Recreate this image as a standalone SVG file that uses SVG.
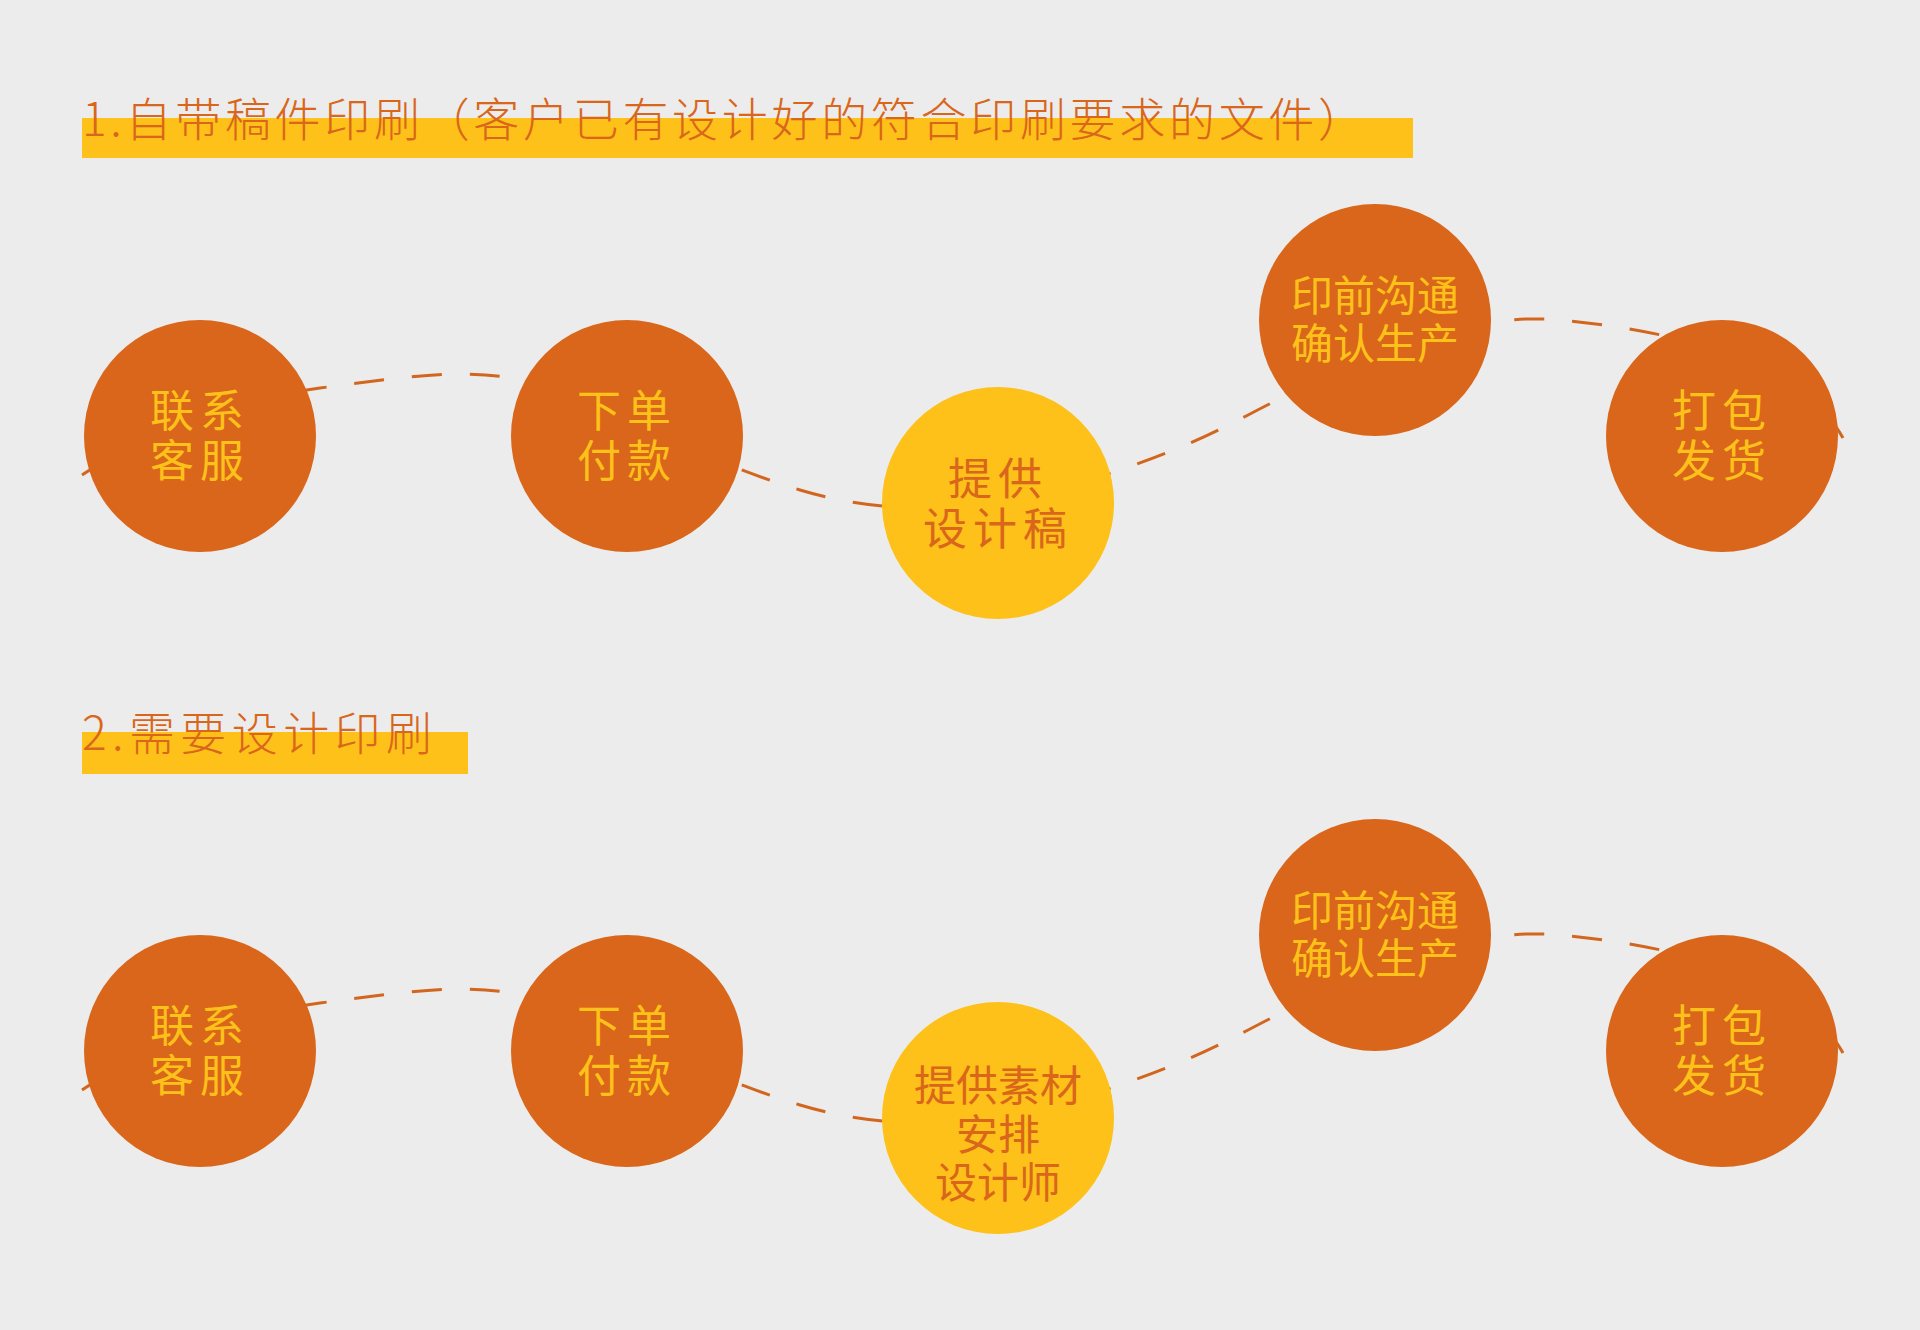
<svg xmlns="http://www.w3.org/2000/svg" width="1920" height="1330" viewBox="0 0 1920 1330">
<style>
.bg{fill:#ececec}
.bar{fill:#fdc11a}
.title{font-family:"Noto Sans CJK SC","Noto Sans",sans-serif;font-size:46px;fill:#d9661a;font-weight:300}
.o{fill:#d9661a}
.y{fill:#fdc11a}
.to{font-family:"Noto Sans CJK SC",sans-serif;font-size:44px;fill:#fdc11a;text-anchor:middle;dominant-baseline:central}
.ty{font-family:"Noto Sans CJK SC",sans-serif;font-size:44px;fill:#d9661a;text-anchor:middle;dominant-baseline:central}
.s{font-size:42px}
.w{letter-spacing:6px}
.dash{fill:none;stroke:#d2661e;stroke-width:3;stroke-dasharray:30 28}
</style>
<defs>
<path id="curve" class="dash" d="M82,475 C150,430 230,400 320,388 S470,368 520,380 S700,460 800,490 S1000,510 1111,473 S1250,410 1300,390 S1450,310 1560,320 S1800,360 1843,438"/>
</defs>
<rect class="bg" width="1920" height="1330"/>
<g id="title1"><rect class="bar" x="82" y="118" width="1331" height="40"/><text class="title" x="82" y="136" textLength="1282" lengthAdjust="spacing">1.自带稿件印刷（客户已有设计好的符合印刷要求的文件）</text></g>
<g id="title2"><rect class="bar" x="82" y="732" width="386" height="42"/><text class="title" x="82" y="750" textLength="350" lengthAdjust="spacing">2.需要设计印刷</text></g>
<g id="connectors">
<use href="#curve"/>
<use href="#curve" transform="translate(0,615)"/>
</g>
<g id="r1n1"><circle class="o" cx="200" cy="436" r="116"/><text class="to w" x="200" y="408">联系</text><text class="to w" x="200" y="458">客服</text></g>
<g id="r1n2"><circle class="o" cx="627" cy="436" r="116"/><text class="to w" x="627" y="408">下单</text><text class="to w" x="627" y="458">付款</text></g>
<g id="r1n3"><circle class="y" cx="998" cy="503" r="116"/><text class="ty w" x="998" y="476">提供</text><text class="ty w" x="998" y="526">设计稿</text></g>
<g id="r1n4"><circle class="o" cx="1375" cy="320" r="116"/><text class="to s" x="1375" y="292">印前沟通</text><text class="to s" x="1375" y="340">确认生产</text></g>
<g id="r1n5"><circle class="o" cx="1722" cy="436" r="116"/><text class="to w" x="1722" y="408">打包</text><text class="to w" x="1722" y="458">发货</text></g>
<g id="r2n1"><circle class="o" cx="200" cy="1051" r="116"/><text class="to w" x="200" y="1023">联系</text><text class="to w" x="200" y="1073">客服</text></g>
<g id="r2n2"><circle class="o" cx="627" cy="1051" r="116"/><text class="to w" x="627" y="1023">下单</text><text class="to w" x="627" y="1073">付款</text></g>
<g id="r2n3"><circle class="y" cx="998" cy="1118" r="116"/><text class="ty s" x="998" y="1082">提供素材</text><text class="ty s" x="998" y="1131">安排</text><text class="ty s" x="998" y="1179">设计师</text></g>
<g id="r2n4"><circle class="o" cx="1375" cy="935" r="116"/><text class="to s" x="1375" y="907">印前沟通</text><text class="to s" x="1375" y="955">确认生产</text></g>
<g id="r2n5"><circle class="o" cx="1722" cy="1051" r="116"/><text class="to w" x="1722" y="1023">打包</text><text class="to w" x="1722" y="1073">发货</text></g>
</svg>
